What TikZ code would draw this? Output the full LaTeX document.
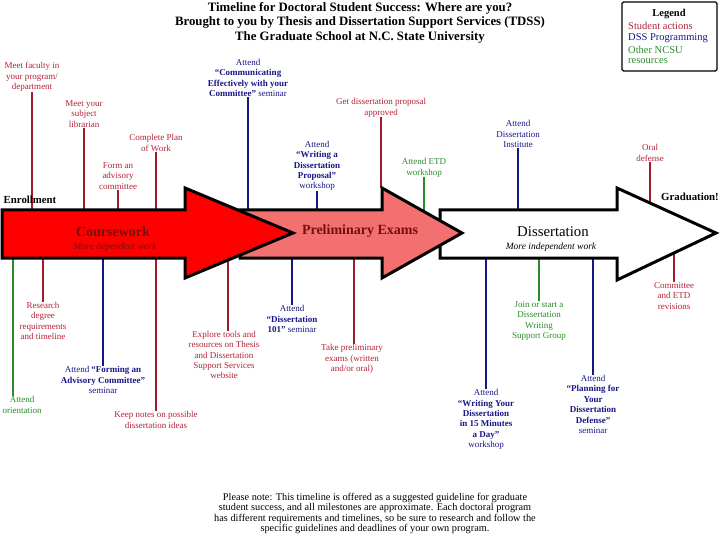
\documentclass[tikz,border=0pt]{standalone}
\usepackage{fontspec}
\setmainfont{Liberation Serif}
\usetikzlibrary{calc}
\definecolor{sred}{RGB}{178,34,52}
\definecolor{lred}{RGB}{160,28,40}
\definecolor{dblue}{RGB}{22,22,135}
\definecolor{ogreen}{RGB}{40,140,40}
\definecolor{pinkfill}{RGB}{242,112,112}
\definecolor{darkred}{RGB}{120,14,14}
\tikzset{
  lbl/.style={font=\fontsize{9}{10.4}\selectfont, align=center, inner sep=0pt},
  sact/.style={lbl, text=sred},
  dss/.style={lbl, text=dblue},
  oth/.style={lbl, text=ogreen},
  conr/.style={draw=lred, line width=1.3pt},
  conb/.style={draw=dblue, line width=1.3pt},
  cong/.style={draw=ogreen, line width=1.3pt},
  bigarrow/.style={draw=black, line width=3pt, line join=miter},
  phase/.style={font=\bfseries\fontsize{14}{16}\selectfont, inner sep=0pt},
  sub/.style={font=\itshape\fontsize{9.5}{11}\selectfont, inner sep=0pt},
  mile/.style={font=\bfseries\fontsize{10.8}{12}\selectfont, inner sep=0pt},
  legtxt/.style={font=\fontsize{10.5}{12}\selectfont, inner sep=0pt, anchor=west},
}
\begin{document}
\begin{tikzpicture}[x=1pt,y=-1pt]
\useasboundingbox (0,0) rectangle (720,540);
% title
\node[font=\bfseries\fontsize{12.8}{14.5}\selectfont, align=center, inner sep=0pt] (title) at (360,22.5)
 {Timeline for Doctoral Student Success: Where are you?\\Brought to you by Thesis and Dissertation Support Services (TDSS)\\The Graduate School at N.C. State University};
% legend
\node[draw=black, line width=1.2pt, rounded corners=1.5pt, minimum width=95pt, minimum height=69pt, inner sep=0pt] (legbox) at (669.5,36.5) {};
\node[font=\bfseries\fontsize{10.5}{12}\selectfont, inner sep=0pt] (legt) at (669,14) {Legend};
\node[legtxt, text=sred] (leg1) at (628,26) {Student actions};
\node[legtxt, text=dblue] (leg2) at (628,38) {DSS Programming};
\node[legtxt, text=ogreen] (leg3) at (628,49.5) {Other NCSU};
\node[legtxt, text=ogreen] (leg4) at (628,61) {resources};
% reference coordinates
\coordinate (top) at (0,210);
\coordinate (bot) at (0,258);
% upper labels
\node[sact] (fac) at (32,77) {Meet faculty in\\your program/\\department};
\node[sact] (lib) at (84,114) {Meet your\\subject\\librarian};
\node[sact] (plan) at (156,143) {Complete Plan\\of Work};
\node[sact] (adv) at (118,176) {Form an\\advisory\\committee};
\node[dss] (comm) at (248,78) {Attend\\\textbf{“Communicating}\\\textbf{Effectively with your}\\\textbf{Committee”} seminar};
\node[dss] (prop) at (317,166) {Attend\\\textbf{“Writing a}\\\textbf{Dissertation}\\\textbf{Proposal”}\\workshop};
\node[sact] (appr) at (381,108) {Get dissertation proposal\\approved};
\node[oth] (etd) at (424,168) {Attend ETD\\workshop};
\node[dss] (inst) at (518,134) {Attend\\Dissertation\\Institute};
\node[sact] (oral) at (650,153) {Oral\\defense};
% lower labels
\node[oth] (orient) at (22,405) {Attend\\orientation};
\node[sact] (res) at (43,321) {Research\\degree\\requirements\\and timeline};
\node[dss] (formadv) at (103,380) {Attend \textbf{“Forming an}\\\textbf{Advisory Committee”}\\seminar};
\node[sact] (notes) at (156,420) {Keep notes on possible\\dissertation ideas};
\node[sact] (explore) at (224,355) {Explore tools and\\resources on Thesis\\and Dissertation\\Support Services\\website};
\node[dss] (d101) at (292,319) {Attend\\\textbf{“Dissertation}\\\textbf{101”} seminar};
\node[sact] (prelim) at (352,359) {Take preliminary\\exams (written\\and/or oral)};
\node[dss] (w15) at (486,419.5) {Attend\\\textbf{“Writing Your}\\\textbf{Dissertation}\\\textbf{in 15 Minutes}\\\textbf{a Day”}\\workshop};
\node[oth] (group) at (539,321) {Join or start a\\Dissertation\\Writing\\Support Group};
\node[dss] (pdef) at (593,404.5) {Attend\\\textbf{“Planning for}\\\textbf{Your}\\\textbf{Dissertation}\\\textbf{Defense”}\\seminar};
\node[sact] (crev) at (674,296) {Committee\\and ETD\\revisions};
% head-edge end points
\coordinate (apprEnd) at (381,188);
\coordinate (oralEnd) at (650,203);
\coordinate (crevEnd) at (674,254);
\coordinate (explEnd) at (228,261);
\coordinate (orientEnd) at (13,258);
% connectors above
\draw[conr] (fac) -- (fac |- top);
\draw[conr] (lib) -- (lib |- top);
\draw[conr] (plan) -- (plan |- top);
\draw[conr] (adv) -- (adv |- top);
\draw[conb] (comm) -- (comm |- top);
\draw[conb] (prop) -- (prop |- top);
\draw[conr] (appr) -- (apprEnd);
\draw[cong] (etd) -- (etd |- top);
\draw[conb] (inst) -- (inst |- top);
\draw[conr] (oral) -- (oralEnd);
% connectors below
\draw[cong] ([xshift=-9pt]orient.north) -- (orientEnd);
\draw[conr] (res) -- (res |- bot);
\draw[conb] (formadv) -- (formadv |- bot);
\draw[conr] (notes) -- (notes |- bot);
\draw[conr] ([xshift=4pt]explore.north) -- (explEnd);
\draw[conb] (d101) -- (d101 |- bot);
\draw[conr] ([xshift=2pt]prelim.north) -- ([xshift=2pt]prelim.north |- bot);
\draw[conb] (w15) -- (w15 |- bot);
\draw[cong] (group) -- (group |- bot);
\draw[conb] (pdef) -- (pdef |- bot);
\draw[conr] (crev) -- (crevEnd);
% big arrows
\draw[bigarrow, fill=white] (440,210) -- (617,210) -- (617,188) -- (716,233) -- (617,280) -- (617,258) -- (440,258) -- cycle;
\draw[bigarrow, fill=pinkfill] (240,210) -- (382,210) -- (382,188) -- (462,233) -- (382,278) -- (382,258) -- (240,258) -- cycle;
\draw[bigarrow, fill=red] (2,210) -- (185,210) -- (185,188) -- (293,233) -- (185,278) -- (185,258) -- (2,258) -- cycle;
% arrow texts
\node[phase, text=darkred] (cw) at (113,232) {Coursework};
\node[sub, text=darkred] (cwsub) at (115,247) {More dependent work};
\node[phase, text=darkred] (pe) at (360,231) {Preliminary Exams};
\node[font=\fontsize{14.8}{16}\selectfont, inner sep=0pt] (diss) at (553,232) {Dissertation};
\node[sub] (disssub) at (551,247) {More independent work};
\node[mile] (enr) at (30,200) {Enrollment};
\node[mile] (grad) at (690,197) {Graduation!};
% footer
\node[font=\fontsize{10.3}{10.4}\selectfont, align=center, inner sep=0pt] (note) at (375,513.5)
 {Please note: This timeline is offered as a suggested guideline for graduate\\student success, and all milestones are approximate. Each doctoral program\\has different requirements and timelines, so be sure to research and follow the\\specific guidelines and deadlines of your own program.};
\end{tikzpicture}
\end{document}
